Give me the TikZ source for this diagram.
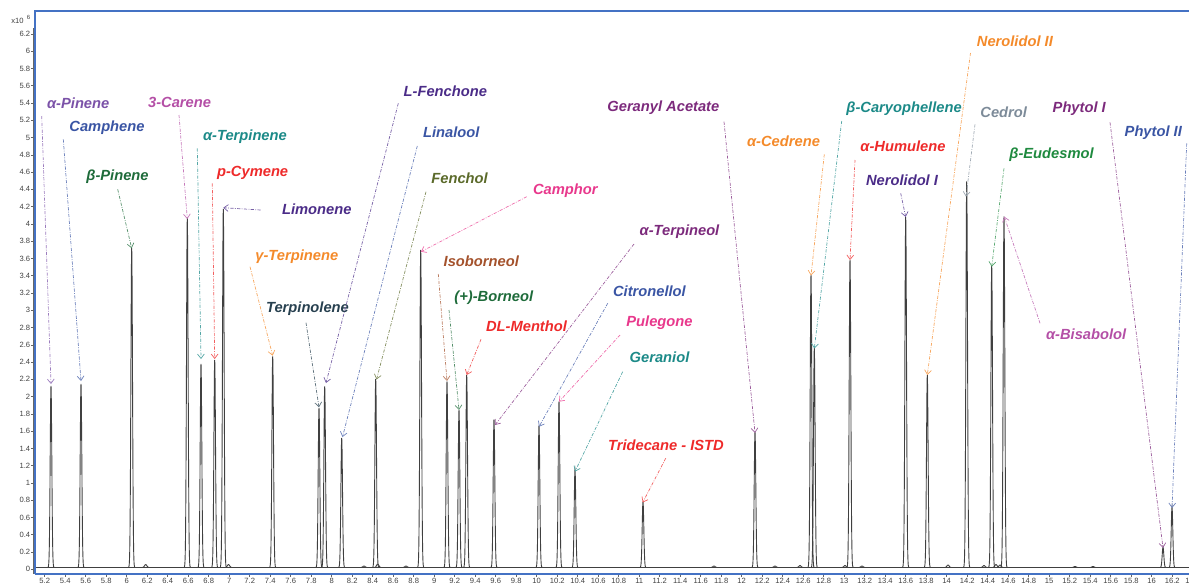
\documentclass[tikz,border=0pt]{standalone}
\usepackage{fontspec}
\setmainfont{Liberation Sans}
\usetikzlibrary{arrows.meta}

\definecolor{frameblue}{HTML}{4472C4}
\definecolor{cPurple}{HTML}{7B52A8}
\definecolor{cBlue}{HTML}{3A55A4}
\definecolor{cDkGreen}{HTML}{1E6B3A}
\definecolor{cOrchid}{HTML}{B44FA6}
\definecolor{cTeal}{HTML}{1C8A88}
\definecolor{cRed}{HTML}{EE2A2A}
\definecolor{cIndigo}{HTML}{4B2C88}
\definecolor{cOrange}{HTML}{F48A2A}
\definecolor{cSlate}{HTML}{27404F}
\definecolor{cOlive}{HTML}{5B6A2A}
\definecolor{cPink}{HTML}{E8388C}
\definecolor{cBrown}{HTML}{A4522C}
\definecolor{cPlum}{HTML}{7C2A7C}
\definecolor{cGray}{HTML}{7D8B99}
\definecolor{cGreen}{HTML}{1F8A3F}

\tikzset{
  peak/.style={draw=black!75, line width=0.45pt},
  lbl/.style={anchor=west, inner sep=0pt, font=\fontsize{7.35}{8}\selectfont\bfseries\itshape},
  pointer/.style={line width=0.35pt, dash pattern=on 1.6pt off 0.7pt on 0.4pt off 0.7pt,
    -{Straight Barb[length=2.2pt,width=3.4pt]}},
  ticklbl/.style={inner sep=0pt, text=black!75, font=\fontsize{3.8}{4.3}\selectfont,
    /pgf/number format/assume math mode=true}
}

\begin{document}
\begin{tikzpicture}[x=0.5pt, y=-0.5pt]
  \useasboundingbox (0,0) rectangle (1189,586);

  % frame and axes
  \draw [frameblue, line width=1pt] (35,574) -- (35,11) -- (1189,11);
  \draw [frameblue, line width=1pt] (35,574) -- (1189,574);
  \draw [black!60, line width=0.8pt] (33.5,28) -- (33.5,574);
  \node [ticklbl, anchor=west] (ymult) at (11,20.5) {x10};
  \node [ticklbl, anchor=west, font=\fontsize{3}{3}\selectfont] (yexp) at (26.5,17.5) {6};
  \foreach \i in {0,...,31} {
    \draw [black!60, line width=0.3pt] (31,569.3-17.27*\i) -- (33.5,569.3-17.27*\i);
    \pgfmathsetmacro{\val}{\i*0.2}
    \node [ticklbl, anchor=east] (yl\i) at (30.5,569.3-17.27*\i) {\pgfmathprintnumber[fixed,precision=1]{\val}};
  }
  \foreach \i in {26,...,82} {
    \draw [black!60, line width=0.3pt] (126.7+20.5*\i-615,574.5) -- (126.7+20.5*\i-615,576.5);
    \pgfmathsetmacro{\val}{\i/5}
    \node [ticklbl] (xl\i) at (126.7+20.5*\i-615,581) {\pgfmathprintnumber[fixed,precision=1]{\val}};
  }

  % baseline, peaks and small bumps
  \draw [peak] (36,567.5) -- (1189,567.5);
  \foreach \px/\py in {51/386, 81/384, 131.7/248, 187.3/218, 201/364, 214.7/360, 223.3/209,
      272.7/356.5, 319/408, 324.7/386.5, 341.7/438, 375.7/379, 420.7/250, 447/381.5,
      459/410, 466.7/375, 494/419.5, 539/425.5, 559/401.5, 575/469.5, 643/501.5, 755/432,
      811/275, 814.3/348, 850/260, 905.7/217, 927.3/375, 966.7/181.5, 991.7/265.5,
      1004/216.5, 1163/547, 1172/507}
    \draw [peak] plot [variable=\t, domain=-5:5, samples=31, smooth]
      ({\px+\t}, {567.5-(567.5-\py)*exp(-(\t/1.15)^2)});
  \foreach \px/\ph in {145.7/3, 228.5/3, 364/1.5, 377.7/3.5, 406/1.5, 714/1.5, 775/1.5,
      800/2, 845/2, 862/1.5, 948/2.5, 984/2, 996/3, 1000/2.5, 1075/1, 1093/1}
    \draw [peak] plot [variable=\t, domain=-5:5, samples=21, smooth]
      ({\px+\t}, {567.5-\ph*exp(-(\t/1.6)^2)});

  % labels and pointers
  \node [lbl, text=cPurple] (apinene) at (46.7,103.3) {α-Pinene};
  \coordinate (apinene-s) at (41.7,116); \coordinate (apinene-p) at (51,384);
  \draw [pointer, cPurple!75] (apinene-s) -- (apinene-p);

  \node [lbl, text=cBlue] (camphene) at (69,127.3) {Camphene};
  \coordinate (camphene-s) at (63.3,139.3); \coordinate (camphene-p) at (81,381);
  \draw [pointer, cBlue!75] (camphene-s) -- (camphene-p);

  \node [lbl, text=cDkGreen] (bpinene) at (86,176.7) {β-Pinene};
  \coordinate (bpinene-s) at (117.7,189.3); \coordinate (bpinene-p) at (131.7,248.3);
  \draw [pointer, cDkGreen!75] (bpinene-s) -- (bpinene-p);

  \node [lbl, text=cOrchid] (carene) at (147.7,102.3) {3-Carene};
  \coordinate (carene-s) at (179,115); \coordinate (carene-p) at (187.3,219);
  \draw [pointer, cOrchid!75] (carene-s) -- (carene-p);

  \node [lbl, text=cTeal] (aterpinene) at (202.7,136.7) {α-Terpinene};
  \coordinate (aterpinene-s) at (197.3,148.3); \coordinate (aterpinene-p) at (201,359);
  \draw [pointer, cTeal!75] (aterpinene-s) -- (aterpinene-p);

  \node [lbl, text=cRed] (pcymene) at (216.7,172.7) {p-Cymene};
  \coordinate (pcymene-s) at (212.3,183.3); \coordinate (pcymene-p) at (214.7,359);
  \draw [pointer, cRed!75] (pcymene-s) -- (pcymene-p);

  \node [lbl, text=cIndigo] (limonene) at (281.7,209.3) {Limonene};
  \coordinate (limonene-s) at (260.7,210); \coordinate (limonene-p) at (223.3,207.7);
  \draw [pointer, cIndigo!75] (limonene-s) -- (limonene-p);

  \node [lbl, text=cOrange] (gterpinene) at (255,256.7) {γ-Terpinene};
  \coordinate (gterpinene-s) at (250,266.7); \coordinate (gterpinene-p) at (272.7,355.7);
  \draw [pointer, cOrange!75] (gterpinene-s) -- (gterpinene-p);

  \node [lbl, text=cSlate] (terpinolene) at (265.7,309) {Terpinolene};
  \coordinate (terpinolene-s) at (306,322.7); \coordinate (terpinolene-p) at (319,407.3);
  \draw [pointer, cSlate!75] (terpinolene-s) -- (terpinolene-p);

  \node [lbl, text=cIndigo] (lfenchone) at (403.3,91) {L-Fenchone};
  \coordinate (lfenchone-s) at (398.3,103.3); \coordinate (lfenchone-p) at (326,383);
  \draw [pointer, cIndigo!75] (lfenchone-s) -- (lfenchone-p);

  \node [lbl, text=cBlue] (linalool) at (422.7,132.7) {Linalool};
  \coordinate (linalool-s) at (417.3,146); \coordinate (linalool-p) at (342.5,437);
  \draw [pointer, cBlue!75] (linalool-s) -- (linalool-p);

  \node [lbl, text=cOlive] (fenchol) at (431,178.3) {Fenchol};
  \coordinate (fenchol-s) at (426,191.7); \coordinate (fenchol-p) at (376.5,379.5);
  \draw [pointer, cOlive!75] (fenchol-s) -- (fenchol-p);

  \node [lbl, text=cPink] (camphor) at (532.7,190.7) {Camphor};
  \coordinate (camphor-s) at (526.7,196.7); \coordinate (camphor-p) at (421,251.7);
  \draw [pointer, cPink!75] (camphor-s) -- (camphor-p);

  \node [lbl, text=cBrown] (isoborneol) at (443.3,261.7) {Isoborneol};
  \coordinate (isoborneol-s) at (438.3,274); \coordinate (isoborneol-p) at (447,381);
  \draw [pointer, cBrown!75] (isoborneol-s) -- (isoborneol-p);

  \node [lbl, text=cDkGreen] (borneol) at (454,297.7) {(+)-Borneol};
  \coordinate (borneol-s) at (449,310); \coordinate (borneol-p) at (459,410);
  \draw [pointer, cDkGreen!75] (borneol-s) -- (borneol-p);

  \node [lbl, text=cRed] (menthol) at (485.7,326.7) {DL-Menthol};
  \coordinate (menthol-s) at (481,339.3); \coordinate (menthol-p) at (466.7,375);
  \draw [pointer, cRed!75] (menthol-s) -- (menthol-p);

  \node [lbl, text=cPlum] (aterpineol) at (639.3,231.7) {α-Terpineol};
  \coordinate (aterpineol-s) at (634,244); \coordinate (aterpineol-p) at (495,425);
  \draw [pointer, cPlum!75] (aterpineol-s) -- (aterpineol-p);

  \node [lbl, text=cBlue] (citronellol) at (612.7,291.7) {Citronellol};
  \coordinate (citronellol-s) at (607.7,303.3); \coordinate (citronellol-p) at (539,426.7);
  \draw [pointer, cBlue!75] (citronellol-s) -- (citronellol-p);

  \node [lbl, text=cPink] (pulegone) at (626,322.7) {Pulegone};
  \coordinate (pulegone-s) at (620,335); \coordinate (pulegone-p) at (559,401.7);
  \draw [pointer, cPink!75] (pulegone-s) -- (pulegone-p);

  \node [lbl, text=cTeal] (geraniol) at (629.3,357.7) {Geraniol};
  \coordinate (geraniol-s) at (622.7,371.7); \coordinate (geraniol-p) at (575,471.5);
  \draw [pointer, cTeal!75] (geraniol-s) -- (geraniol-p);

  \node [lbl, text=cRed] (tridecane) at (607.7,445) {Tridecane - ISTD};
  \coordinate (tridecane-s) at (665.7,458.3); \coordinate (tridecane-p) at (642.7,502.5);
  \draw [pointer, cRed!75] (tridecane-s) -- (tridecane-p);

  \node [lbl, text=cPlum] (geranylac) at (607,108) {Geranyl Acetate};
  \coordinate (geranylac-s) at (724,121.7); \coordinate (geranylac-p) at (755,433);
  \draw [pointer, cPlum!75] (geranylac-s) -- (geranylac-p);

  \node [lbl, text=cOrange] (acedrene) at (746.7,141.7) {α-Cedrene};
  \coordinate (acedrene-s) at (824.3,154.3); \coordinate (acedrene-p) at (811,275.5);
  \draw [pointer, cOrange!75] (acedrene-s) -- (acedrene-p);

  \node [lbl, text=cTeal] (bcaryo) at (846,109) {β-Caryophellene};
  \coordinate (bcaryo-s) at (841.7,121); \coordinate (bcaryo-p) at (814.3,348.5);
  \draw [pointer, cTeal!75] (bcaryo-s) -- (bcaryo-p);

  \node [lbl, text=cRed] (ahumulene) at (860,146.7) {α-Humulene};
  \coordinate (ahumulene-s) at (855,160); \coordinate (ahumulene-p) at (850,260);
  \draw [pointer, cRed!75] (ahumulene-s) -- (ahumulene-p);

  \node [lbl, text=cIndigo] (nerolidol1) at (865.7,180.7) {Nerolidol I};
  \coordinate (nerolidol1-s) at (900.7,193.3); \coordinate (nerolidol1-p) at (905.7,217);
  \draw [pointer, cIndigo!75] (nerolidol1-s) -- (nerolidol1-p);

  \node [lbl, text=cOrange] (nerolidol2) at (976.5,41) {Nerolidol II};
  \coordinate (nerolidol2-s) at (970.5,53); \coordinate (nerolidol2-p) at (927.3,375);
  \draw [pointer, cOrange!75] (nerolidol2-s) -- (nerolidol2-p);

  \node [lbl, text=cGray] (cedrol) at (980,112.7) {Cedrol};
  \coordinate (cedrol-s) at (975,124.3); \coordinate (cedrol-p) at (966,196.7);
  \draw [pointer, cGray!75] (cedrol-s) -- (cedrol-p);

  \node [lbl, text=cGreen] (beudesmol) at (1009,155) {β-Eudesmol};
  \coordinate (beudesmol-s) at (1004,168.3); \coordinate (beudesmol-p) at (991.7,266.7);
  \draw [pointer, cGreen!75] (beudesmol-s) -- (beudesmol-p);

  \node [lbl, text=cOrchid] (abisabolol) at (1045.7,334.3) {α-Bisabolol};
  \coordinate (abisabolol-s) at (1040,323.3); \coordinate (abisabolol-p) at (1004.3,216.7);
  \draw [pointer, cOrchid!75] (abisabolol-s) -- (abisabolol-p);

  \node [lbl, text=cPlum] (phytol1) at (1052.3,109) {Phytol I};
  \coordinate (phytol1-s) at (1110,122.3); \coordinate (phytol1-p) at (1163,548);
  \draw [pointer, cPlum!75] (phytol1-s) -- (phytol1-p);

  \node [lbl, text=cBlue] (phytol2) at (1124.3,132.3) {Phytol II};
  \coordinate (phytol2-s) at (1186.7,143.3); \coordinate (phytol2-p) at (1172,508);
  \draw [pointer, cBlue!75] (phytol2-s) -- (phytol2-p);
\end{tikzpicture}
\end{document}
